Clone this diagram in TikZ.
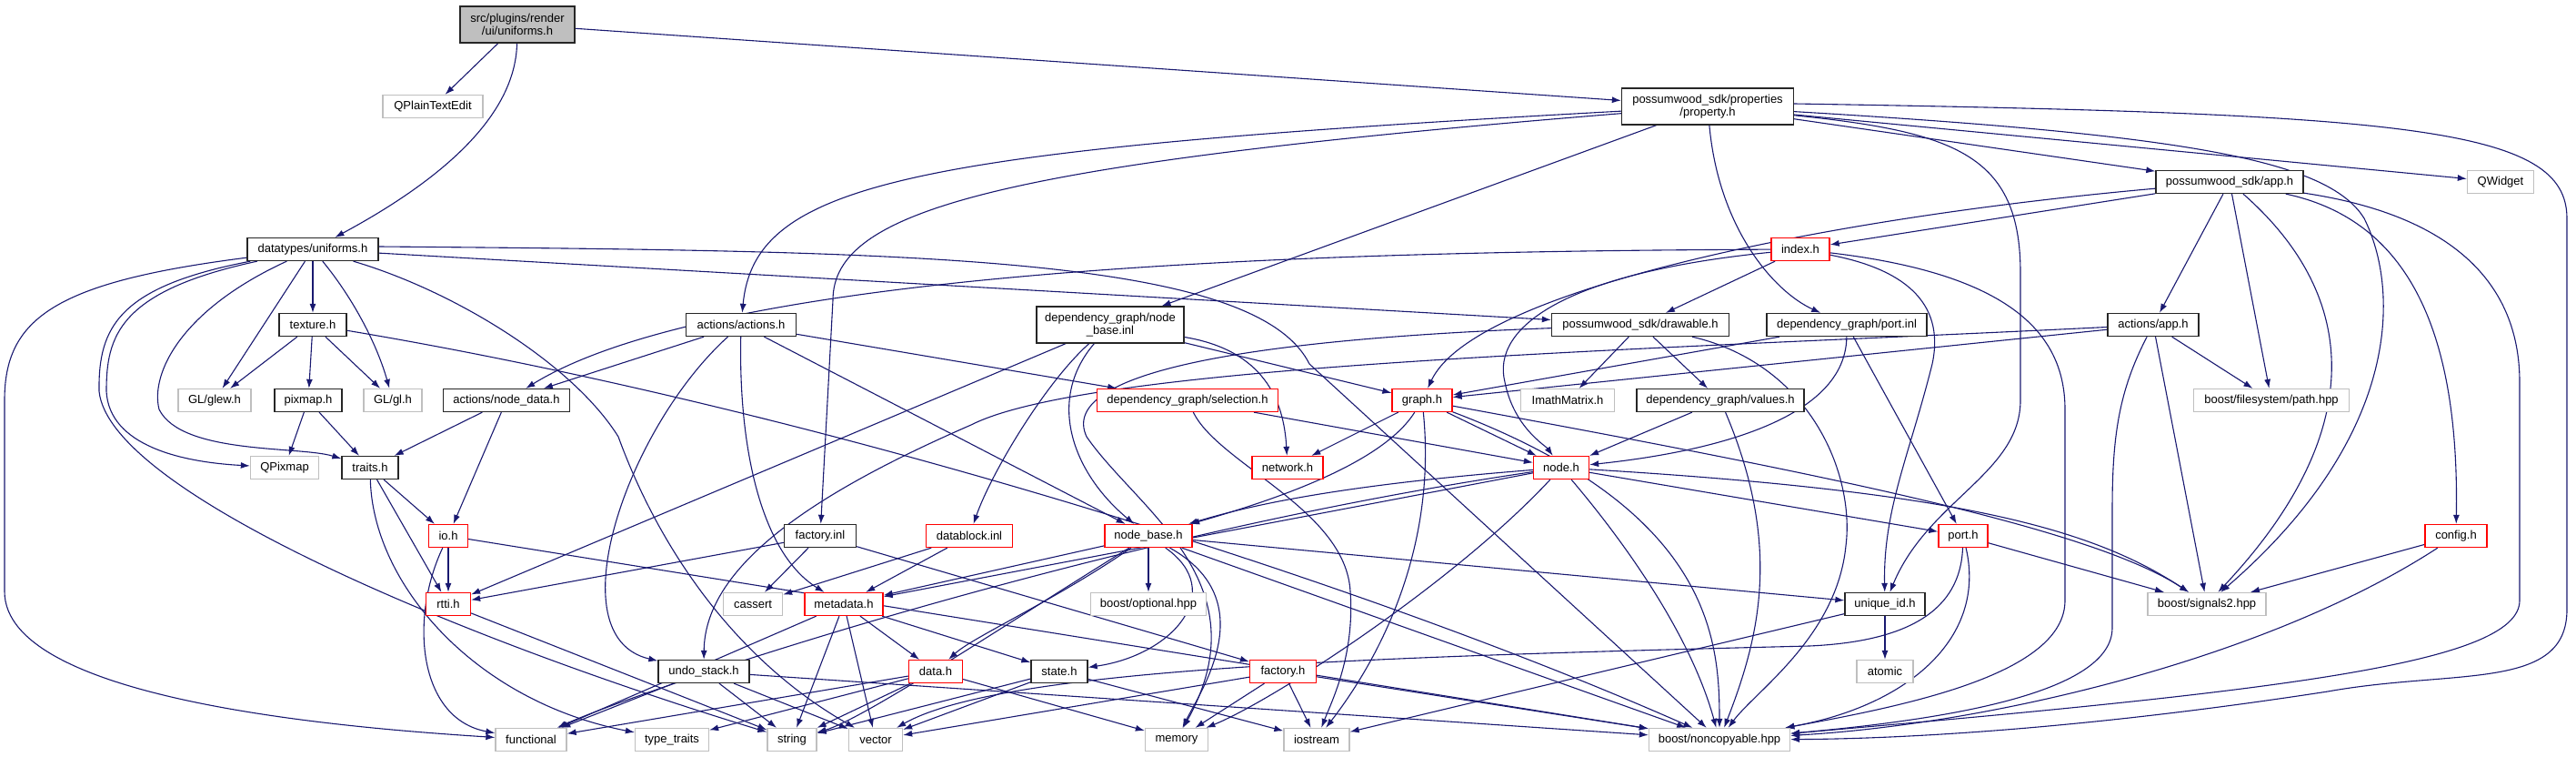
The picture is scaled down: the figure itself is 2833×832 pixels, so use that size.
\documentclass[tikz,border=0pt]{standalone}
\usepackage{fontspec}
\setmainfont{Liberation Sans}
\usetikzlibrary{arrows.meta}
\definecolor{edgec}{HTML}{191970}
\definecolor{grayb}{HTML}{BFBFBF}
\definecolor{redb}{HTML}{FF0000}
\pgfdeclarelayer{edgelayer}
\pgfsetlayers{edgelayer,main}
\tikzset{
  box/.style={rectangle, inner sep=0pt, minimum height=25pt, line width=1.3pt, font=\fontsize{13}{14}\selectfont, align=center, fill=white},
  nb/.style={box, draw=black!85},
  ng/.style={box, draw=grayb},
  nr/.style={box, draw=redb},
  two/.style={minimum height=40pt},
  dep/.style={draw=edgec, line width=1.1pt, -{Latex[length=10pt,width=7pt]}}
}
\begin{document}
\begin{tikzpicture}[x=1pt,y=-1pt]
\useasboundingbox (0,0) rectangle (2833,832);
\node[nb,two,fill=grayb,minimum width=126pt] (root) at (569,27) {src/plugins/render\\/ui/uniforms.h};
\node[ng,minimum width=110pt] (qpte) at (476,117) {QPlainTextEdit};
\node[nb,minimum width=144pt] (dtu) at (344,274) {datatypes/uniforms.h};
\node[nb,two,minimum width=189pt] (prop) at (1878,117) {possumwood\_sdk/properties\\/property.h};
\node[nb,minimum width=162pt] (app) at (2452,200) {possumwood\_sdk/app.h};
\node[ng,minimum width=73pt] (qwidget) at (2750,200) {QWidget};
\node[nb,minimum width=74pt] (texture) at (344,357) {texture.h};
\node[nb,minimum width=121pt] (actions) at (815,357) {actions/actions.h};
\node[nb,two,minimum width=162pt] (nbinl) at (1221,357) {dependency\_graph/node\\\_base.inl};
\node[nr,minimum width=64pt] (index) at (1980,274) {index.h};
\node[nb,minimum width=195pt] (drawable) at (1804,357) {possumwood\_sdk/drawable.h};
\node[nb,minimum width=176pt] (portinl) at (2031,357) {dependency\_graph/port.inl};
\node[nb,minimum width=100pt] (actapp) at (2368,357) {actions/app.h};
\node[ng,minimum width=80pt] (glew) at (236,440) {GL/glew.h};
\node[nb,minimum width=74pt] (pixmap) at (339,440) {pixmap.h};
\node[ng,minimum width=64pt] (gl) at (432,440) {GL/gl.h};
\node[nb,minimum width=139pt] (nodedata) at (557,440) {actions/node\_data.h};
\node[nr,minimum width=199pt] (selection) at (1306,440) {dependency\_graph/selection.h};
\node[nr,minimum width=66pt] (graph) at (1564,440) {graph.h};
\node[ng,minimum width=103pt] (imath) at (1724,440) {ImathMatrix.h};
\node[nb,minimum width=184pt] (values) at (1892,440) {dependency\_graph/values.h};
\node[ng,minimum width=171pt] (fspath) at (2498,440) {boost/filesystem/path.hpp};
\node[ng,minimum width=75pt] (qpixmap) at (313,514) {QPixmap};
\node[nb,minimum width=62pt] (traits) at (407,514) {traits.h};
\node[nr,minimum width=78pt] (network) at (1416,514) {network.h};
\node[nr,minimum width=61pt] (node) at (1717,514) {node.h};
\node[nr,minimum width=43pt] (io) at (493,589) {io.h};
\node[nb,minimum width=79pt] (factinl) at (902,589) {factory.inl};
\node[nr,minimum width=95pt] (datablock) at (1066,589) {datablock.inl};
\node[nr,minimum width=96pt] (nodebase) at (1263,589) {node\_base.h};
\node[nr,minimum width=54pt] (port) at (2159,589) {port.h};
\node[nr,minimum width=68pt] (config) at (2701,589) {config.h};
\node[nr,minimum width=49pt] (rtti) at (493,664) {rtti.h};
\node[ng,minimum width=65pt] (cassert) at (828,664) {cassert};
\node[nr,minimum width=86pt] (metadata) at (928,664) {metadata.h};
\node[ng,minimum width=127pt] (optional) at (1263,664) {boost/optional.hpp};
\node[nb,minimum width=88pt] (uniqueid) at (2073,664) {unique\_id.h};
\node[ng,minimum width=130pt] (signals2) at (2427,664) {boost/signals2.hpp};
\node[nb,minimum width=100pt] (undo) at (774,738) {undo\_stack.h};
\node[nr,minimum width=59pt] (data) at (1029,738) {data.h};
\node[nb,minimum width=62pt] (state) at (1165,738) {state.h};
\node[nr,minimum width=73pt] (factoryh) at (1411,738) {factory.h};
\node[ng,minimum width=62pt] (atomic) at (2073,738) {atomic};
\node[ng,minimum width=78pt] (functional) at (584,813) {functional};
\node[ng,minimum width=81pt] (typetraits) at (739,813) {type\_traits};
\node[ng,minimum width=54pt] (string) at (871,813) {string};
\node[ng,minimum width=59pt] (vector) at (963,813) {vector};
\node[ng,minimum width=69pt] (memory) at (1294,813) {memory};
\node[ng,minimum width=72pt] (iostream) at (1448,813) {iostream};
\node[ng,minimum width=155pt] (noncopy) at (1891,813) {boost/noncopyable.hpp};

\begin{pgfonlayer}{edgelayer}
% root
\draw[dep] (root) -- (qpte);
\draw[dep] (root) .. controls (567,120) and (500,190) .. (dtu);
\draw[dep] (root) -- (prop);
% datatypes/uniforms.h
\draw[dep] (dtu) .. controls (60,310) and (5,350) .. (5,440) -- (5,650) .. controls (5,770) and (380,800) .. (functional);
\draw[dep] (dtu) .. controls (130,315) and (108,360) .. (109,430) .. controls (120,540) and (500,700) .. (string);
\draw[dep] (dtu) .. controls (130,320) and (117,370) .. (117,430) .. controls (120,490) and (200,508) .. (qpixmap);
\draw[dep] (dtu) .. controls (200,340) and (165,410) .. (175,450) .. controls (200,500) and (330,490) .. (traits);
\draw[dep] (dtu) -- (glew);
\draw[dep] (dtu) -- (texture);
\draw[dep] (dtu) .. controls (390,330) and (415,380) .. (gl);
\draw[dep] (dtu) .. controls (500,320) and (630,400) .. (680,480) .. controls (720,590) and (800,720) .. (vector);
\draw[dep] (dtu) -- (drawable);
\draw[dep] ([yshift=3pt]dtu.east) .. controls (1000,276) and (1380,280) .. (1440,400) -- (noncopy);
% texture
\draw[dep] (texture) -- (glew);
\draw[dep] (texture) -- (pixmap);
\draw[dep] (texture) -- (gl);
\draw[dep] (texture) .. controls (900,450) and (1500,640) .. (noncopy);
% pixmap, node_data, traits, io, rtti
\draw[dep] (pixmap) -- (qpixmap);
\draw[dep] (pixmap) -- (traits);
\draw[dep] (nodedata) -- (traits);
\draw[dep] (nodedata) -- (io);
\draw[dep] (traits) -- (io);
\draw[dep] (traits) -- (rtti);
\draw[dep] (traits) .. controls (410,640) and (520,770) .. (typetraits);
\draw[dep] (io) -- (rtti);
\draw[dep] (io) .. controls (450,680) and (460,790) .. (functional);
\draw[dep] (io) -- (noncopy);
\draw[dep] (rtti) -- (string);
% actions/actions.h
\draw[dep] (actions) -- (nodedata);
\draw[dep] (actions) .. controls (690,470) and (610,700) .. (undo);
\draw[dep] (actions) .. controls (812,500) and (840,610) .. (metadata);
\draw[dep] (actions) -- (nodebase);
\draw[dep] (actions) -- (selection);
% property.h
\draw[dep] (prop) .. controls (1000,165) and (830,200) .. (actions);
\draw[dep] (prop) .. controls (1100,180) and (916,230) .. (916,330) -- (factinl);
\draw[dep] (prop) -- (nbinl);
\draw[dep] (prop) .. controls (1890,250) and (1950,320) .. (portinl);
\draw[dep] ([yshift=3pt]prop.east) .. controls (2650,125) and (2823,140) .. (2823,240) -- (2823,670) .. controls (2823,760) and (2700,735) .. (2560,760) .. controls (2300,800) and (2100,812) .. (noncopy);
\draw[dep] (prop) -- (qwidget);
\draw[dep] (prop) .. controls (2400,148) and (2560,175) .. (2600,240) .. controls (2640,320) and (2640,480) .. (signals2);
\draw[dep] (prop) -- (app);
\draw[dep] (prop) .. controls (2150,145) and (2222,170) .. (2222,300) -- (2222,440) .. controls (2222,520) and (2120,550) .. (uniqueid);
% app.h
\draw[dep] (app) -- (index);
\draw[dep] (app) .. controls (2000,240) and (1620,320) .. (graph);
\draw[dep] (app) -- (actapp);
\draw[dep] (app) -- (fspath);
\draw[dep] (app) .. controls (2600,330) and (2600,480) .. (signals2);
\draw[dep] (app) .. controls (2640,240) and (2705,350) .. (config);
\draw[dep] (app) .. controls (2720,240) and (2771,330) .. (2771,420) -- (2771,660) .. controls (2771,730) and (2500,760) .. (noncopy);
% actions/app.h
\draw[dep] (actapp) -- (graph);
\draw[dep] (actapp) .. controls (1800,385) and (1200,400) .. (1068,467) .. controls (900,540) and (775,620) .. (undo);
\draw[dep] (actapp) -- (fspath);
\draw[dep] (actapp) -- (signals2);
\draw[dep] (actapp) .. controls (2330,430) and (2323,480) .. (2323,560) -- (2323,690) .. controls (2323,760) and (2150,790) .. (noncopy);
% index.h
\draw[dep] (index) -- (drawable);
\draw[dep] (index) .. controls (1500,276) and (800,290) .. (nodedata);
\draw[dep] (index) .. controls (1720,300) and (1640,360) .. (1655,420) .. controls (1665,470) and (1700,490) .. (node);
\draw[dep] (index) .. controls (2090,295) and (2140,330) .. (2125,400) .. controls (2100,500) and (2071,560) .. (uniqueid);
\draw[dep] (index) .. controls (2200,300) and (2271,360) .. (2271,450) -- (2271,660) .. controls (2271,740) and (2100,775) .. (noncopy);
% drawable
\draw[dep] (drawable) -- (imath);
\draw[dep] (drawable) -- (values);
\draw[dep] (drawable) .. controls (1990,400) and (2040,520) .. (2030,600) .. controls (2020,700) and (1930,760) .. (noncopy);
\draw[dep] (drawable) .. controls (1400,372) and (1160,405) .. (1195,480) .. controls (1250,560) and (1390,640) .. (memory);
% port.inl
\draw[dep] (portinl) -- (graph);
\draw[dep] (portinl) .. controls (2030,470) and (1850,500) .. (node);
\draw[dep] (portinl) -- (port);
% values
\draw[dep] (values) -- (node);
\draw[dep] (values) .. controls (1960,600) and (1935,700) .. (noncopy);
% node_base.inl
\draw[dep] (nbinl) -- (graph);
\draw[dep] (nbinl) .. controls (1390,385) and (1412,440) .. (network);
\draw[dep] (nbinl) .. controls (1150,420) and (1090,520) .. (datablock);
\draw[dep] (nbinl) .. controls (1150,440) and (1180,520) .. (nodebase);
\draw[dep] (nbinl) -- (rtti);
% selection
\draw[dep] (selection) -- (node);
\draw[dep] (selection) .. controls (1340,510) and (1480,560) .. (1485,650) .. controls (1490,720) and (1465,770) .. (iostream);
% graph
\draw[dep] (graph) -- (network);
\draw[dep] (graph) -- (node);
\draw[dep] (graph) .. controls (1520,510) and (1400,550) .. (nodebase);
\draw[dep] (graph) .. controls (2000,520) and (2300,580) .. (signals2);
\draw[dep] (graph) .. controls (1880,560) and (1891,700) .. (noncopy);
\draw[dep] (graph) .. controls (1580,600) and (1520,720) .. (iostream);
% node
\draw[dep] (node) .. controls (1450,535) and (1360,560) .. (nodebase);
\draw[dep] (node) -- (metadata);
\draw[dep] (node) .. controls (1200,590) and (700,760) .. (functional);
\draw[dep] (node) .. controls (1600,640) and (1400,770) .. (memory);
\draw[dep] (node) .. controls (1790,600) and (1860,700) .. (noncopy);
\draw[dep] (node) .. controls (2150,540) and (2300,580) .. (signals2);
\draw[dep] (node) -- (port);
% node_base.h
\draw[dep] (nodebase) -- (metadata);
\draw[dep] (nodebase) .. controls (1100,690) and (950,790) .. (string);
\draw[dep] (nodebase) .. controls (1160,660) and (1070,700) .. (data);
\draw[dep] (nodebase) -- (optional);
\draw[dep] (nodebase) .. controls (1350,650) and (1290,720) .. (state);
\draw[dep] (nodebase) .. controls (1390,660) and (1320,760) .. (memory);
\draw[dep] (nodebase) -- (uniqueid);
\draw[dep] (nodebase) -- (noncopy);
% datablock, factory.inl
\draw[dep] (datablock) -- (metadata);
\draw[dep] (datablock) -- (cassert);
\draw[dep] (factinl) -- (cassert);
\draw[dep] (factinl) -- (rtti);
\draw[dep] (factinl) -- (factoryh);
% metadata
\draw[dep] (metadata) -- (functional);
\draw[dep] (metadata) -- (string);
\draw[dep] (metadata) -- (vector);
\draw[dep] (metadata) -- (data);
\draw[dep] (metadata) -- (state);
% undo_stack
\draw[dep] (undo) -- (functional);
\draw[dep] (undo) -- (string);
\draw[dep] (undo) -- (vector);
\draw[dep] (undo) -- (noncopy);
% data.h
\draw[dep] (data) -- (typetraits);
\draw[dep] (data) -- (string);
\draw[dep] (data) -- (memory);
\draw[dep] (data) -- (functional);
% state.h
\draw[dep] (state) -- (vector);
\draw[dep] (state) -- (iostream);
\draw[dep] (state) -- (string);
% factory.h
\draw[dep] (factoryh) -- (memory);
\draw[dep] (factoryh) -- (vector);
\draw[dep] (factoryh) -- (iostream);
\draw[dep] (factoryh) -- (noncopy);
% port.h
\draw[dep] (port) -- (signals2);
\draw[dep] (port) .. controls (2185,700) and (2100,775) .. (noncopy);
\draw[dep] (port) .. controls (2156,670) and (2100,705) .. (1990,710) .. controls (1500,722) and (1100,735) .. (vector);
% config.h
\draw[dep] (config) -- (signals2);
\draw[dep] (config) .. controls (2500,720) and (2200,795) .. (noncopy);
% unique_id.h
\draw[dep] (uniqueid) -- (atomic);
\draw[dep] (uniqueid) -- (iostream);
\end{pgfonlayer}
\end{tikzpicture}
\end{document}
